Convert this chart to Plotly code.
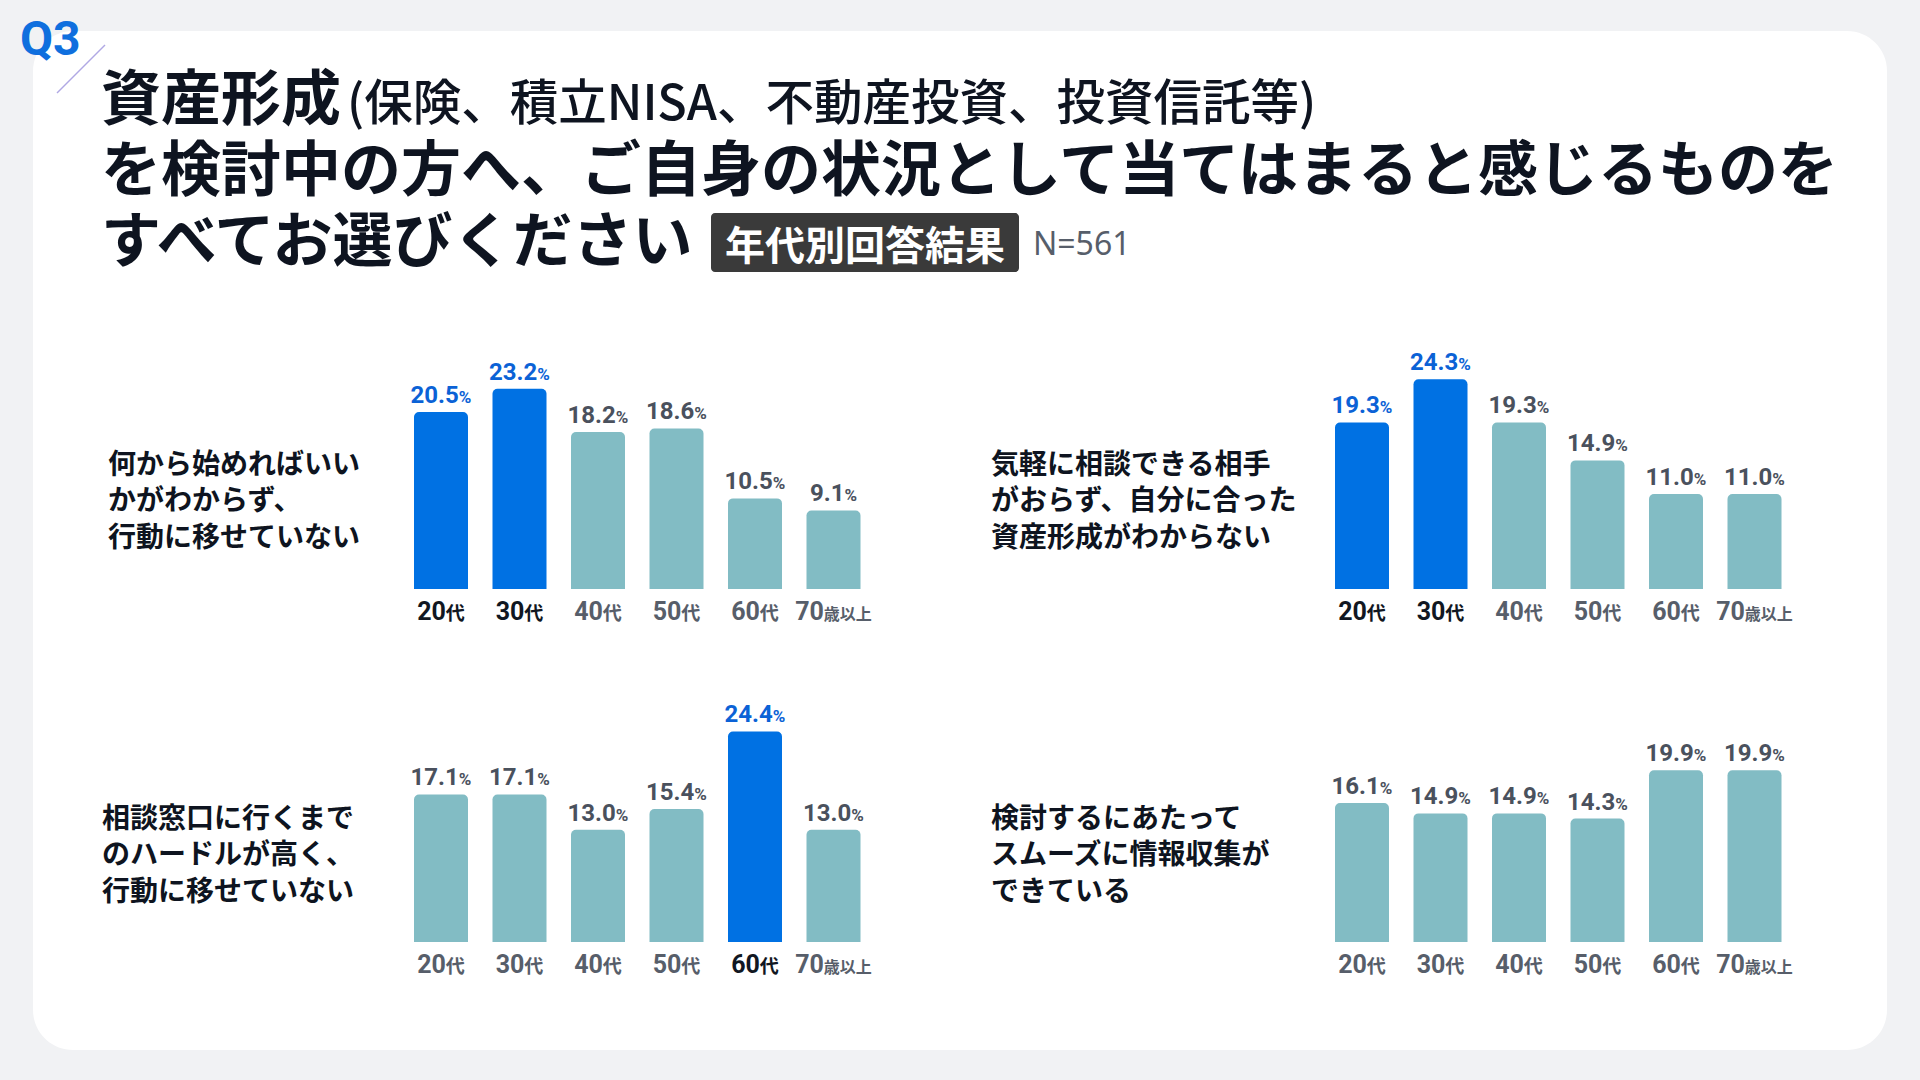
import plotly.graph_objects as go

# ---------------- data ----------------
tick_num = ["20", "30", "40", "50", "60", "70"]
tick_suffix = ["代", "代", "代", "代", "代", "歳以上"]
ages = [n + s for n, s in zip(tick_num, tick_suffix)]

q1_label = ["何から始めればいい", "かがわからず、", "行動に移せていない"]
q1_values = [20.5, 23.2, 18.2, 18.6, 10.5, 9.1]
q1_highlight = [0, 1]

q2_label = ["気軽に相談できる相手", "がおらず、自分に合った", "資産形成がわからない"]
q2_values = [19.3, 24.3, 19.3, 14.9, 11.0, 11.0]
q2_highlight = [0, 1]

q3_label = ["相談窓口に行くまで", "のハードルが高く、", "行動に移せていない"]
q3_values = [17.1, 17.1, 13.0, 15.4, 24.4, 13.0]
q3_highlight = [4]

q4_label = ["検討するにあたって", "スムーズに情報収集が", "できている"]
q4_values = [16.1, 14.9, 14.9, 14.3, 19.9, 19.9]
q4_highlight = []

title_main = "資産形成"
title_paren = "(保険、積立NISA、不動産投資、投資信託等)"
title_line2 = "を検討中の方へ、ご自身の状況として当てはまると感じるものを"
title_line3 = "すべてお選びください"
badge_text = "年代別回答結果"
n_text = "N=561"
q_text = "Q3"

# ---------------- styles ----------------
W, H = 1920, 1080
BG = "#F1F2F4"
BLUE = "#0071E3"
TEAL = "#82BCC4"
LBL_BLUE = "#0B62D6"
LBL_GRAY = "#4A515D"
TICK_DARK = "#111722"
TICK_GRAY = "#575E6A"
TEXT_DARK = "#0E1420"
JP = "Noto Sans CJK JP"
NUM = "Roboto, Noto Sans CJK JP"
LINE = 1.3  # plotly line spacing (em of base font)


def px(x):
    return x / W


def py(y):
    return 1 - y / H


def rrect(x0, y0, x1, y1, r):
    k = 0.5523 * r
    pts = [
        ("M", [(x0 + r, y0)]),
        ("L", [(x1 - r, y0)]),
        ("C", [(x1 - r + k, y0), (x1, y0 + r - k), (x1, y0 + r)]),
        ("L", [(x1, y1 - r)]),
        ("C", [(x1, y1 - r + k), (x1 - r + k, y1), (x1 - r, y1)]),
        ("L", [(x0 + r, y1)]),
        ("C", [(x0 + r - k, y1), (x0, y1 - r + k), (x0, y1 - r)]),
        ("L", [(x0, y0 + r)]),
        ("C", [(x0, y0 + r - k), (x0 + r - k, y0), (x0 + r, y0)]),
    ]
    s = ""
    for cmd, ps in pts:
        s += cmd + " " + " ".join(f"{px(a):.6f},{py(b):.6f}" for a, b in ps) + " "
    return s + "Z"


fig = go.Figure()

# panel geometry (pixels)
pitch = 78.5
panels = [
    dict(values=q1_values, hl=q1_highlight, label=q1_label, cx0=441, base=589, lx=106, ly=498),
    dict(values=q2_values, hl=q2_highlight, label=q2_label, cx0=1362, base=589, lx=989, ly=498),
    dict(values=q3_values, hl=q3_highlight, label=q3_label, cx0=441, base=942, lx=100, ly=852),
    dict(values=q4_values, hl=q4_highlight, label=q4_label, cx0=1362, base=942, lx=989, ly=852),
]
YMAX = 30
PX_PER = 8.63

annotations = []
layout_axes = {}
for i, p in enumerate(panels):
    n = i + 1
    xa = "x" if n == 1 else f"x{n}"
    ya = "y" if n == 1 else f"y{n}"
    vals = p["values"]
    colors = [BLUE if j in p["hl"] else TEAL for j in range(len(vals))]
    tcolors = [LBL_BLUE if j in p["hl"] else LBL_GRAY for j in range(len(vals))]
    texts = [f"{v:.1f}<span style='font-size:17px'>%</span>" for v in vals]
    fig.add_trace(go.Bar(
        x=ages, y=vals, xaxis=xa, yaxis=ya,
        marker=dict(color=colors, line=dict(width=0), cornerradius=5),
        text=texts, textposition="outside", cliponaxis=False, constraintext="none",
        textfont=dict(family=NUM, size=24, color=tcolors, weight="bold"),
        hoverinfo="skip", showlegend=False,
    ))
    ticktext = []
    for j, (num, suf) in enumerate(zip(tick_num, tick_suffix)):
        col = TICK_DARK if j in p["hl"] else TICK_GRAY
        fs = 19 if suf == "代" else 16
        ticktext.append(f"<span style='color:{col}'>{num}<span style='font-size:{fs}px'>{suf}</span></span>")
    x0 = p["cx0"] - pitch / 2
    x1 = p["cx0"] + pitch * 5.5
    yb = p["base"]
    yt = yb - YMAX * PX_PER
    layout_axes["xaxis" if n == 1 else f"xaxis{n}"] = dict(
        domain=[px(x0), px(x1)], anchor=ya, type="category",
        tickmode="array", tickvals=ages, ticktext=ticktext,
        tickfont=dict(family=NUM, size=25, weight="bold"),
        showgrid=False, zeroline=False, showline=False, ticks="",
        ticklabelstandoff=5, fixedrange=True,
    )
    layout_axes["yaxis" if n == 1 else f"yaxis{n}"] = dict(
        domain=[py(yb), py(yt)], anchor=xa, range=[0, YMAX],
        visible=False, fixedrange=True,
    )
    lbl = "<br>".join(p["label"])
    annotations.append(dict(
        text=lbl, x=px(p["lx"]), y=py(p["ly"]), xref="paper", yref="paper",
        xanchor="left", yanchor="middle", align="left", showarrow=False,
        font=dict(family=JP, size=28, color=TEXT_DARK, weight="bold"),
    ))

# title block (3 lines)
t1 = (f"<span style='font-size:60px;font-weight:bold'>{title_main}</span>"
      f"<span style='font-size:6px'>\u3000</span>"
      f"<span style='font-size:48.5px;font-weight:500'>{title_paren}</span>")
t2 = f"<span style='font-size:60px;font-weight:bold'>{title_line2}</span>"
t3 = f"<span style='font-size:60px;font-weight:bold'>{title_line3}</span>"
annotations.append(dict(
    text="<br>".join([t1, t2, t3]),
    x=px(99), y=py(47.5), xref="paper", yref="paper", xanchor="left", yanchor="top", align="left",
    showarrow=False, font=dict(family=JP, size=71 / LINE, color=TEXT_DARK),
))
annotations.append(dict(
    text=badge_text, x=px(865), y=py(243), xref="paper", yref="paper", xanchor="center",
    yanchor="middle", showarrow=False, font=dict(family=JP, size=40, color="#FFFFFF", weight="bold"),
))
annotations.append(dict(
    text=n_text, x=px(1031), y=py(243), xref="paper", yref="paper", xanchor="left",
    yanchor="middle", showarrow=False, font=dict(family="Noto Sans, Roboto", size=32, color="#575E6A"),
))
annotations.append(dict(
    text=q_text, x=px(50), y=py(38), xref="paper", yref="paper", xanchor="center",
    yanchor="middle", showarrow=False, font=dict(family="Roboto", size=48, color="#0F6FDE", weight="bold"),
))

shapes = [
    dict(type="path", path=rrect(33, 31, 1887, 1050, 40), xref="paper", yref="paper",
         fillcolor="#FFFFFF", line=dict(width=0), layer="below"),
    dict(type="path", path=rrect(711, 213, 1019, 272, 4), xref="paper", yref="paper",
         fillcolor="#3A3A3A", line=dict(width=0), layer="below"),
    dict(type="line", x0=px(57), y0=py(93), x1=px(105), y1=py(45), xref="paper", yref="paper",
         line=dict(color="#B0A8E4", width=1.5)),
]

fig.update_layout(
    width=W, height=H, margin=dict(l=0, r=0, t=0, b=0),
    paper_bgcolor=BG, plot_bgcolor="rgba(0,0,0,0)",
    bargap=0.312, showlegend=False,
    annotations=annotations, shapes=shapes,
    font=dict(family=JP),
    **layout_axes,
)

fig.write_html("out.html", config={"displayModeBar": False, "staticPlot": True},
               post_script="document.body.style.margin='0';")
